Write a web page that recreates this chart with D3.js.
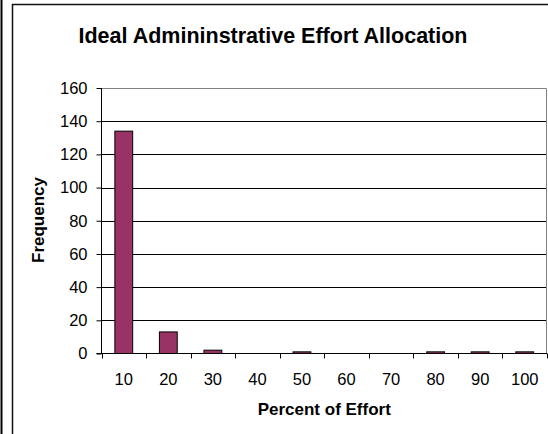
<!DOCTYPE html>
<html>
<head>
    <meta charset="utf-8" />
    <title>Ideal Admininstrative Effort Allocation</title>
    <script src="https://cdn.jsdelivr.net/npm/d3@7"></script>
    <style>
        body { margin: 0; background: #fff; }
        text { font-family: "Liberation Sans", Arial, sans-serif; fill: #000; }
    </style>
</head>
<body>
    <div id="chart"></div>
    <script>
        var categories = ["10", "20", "30", "40", "50", "60", "70", "80", "90", "100"];
        var frequency = [134, 13, 2, 0, 1, 0, 0, 1, 1, 1];
        var yTicks = [0, 20, 40, 60, 80, 100, 120, 140, 160];

        var width = 548;
        var height = 434;
        var plot = { left: 101.5, top: 88, right: 547, bottom: 353.5 };

        var svg = d3.select("#chart")
            .append("svg")
            .attr("width", width)
            .attr("height", height);

        // outer chart frame
        svg.append("line")
            .attr("x1", 1.5).attr("x2", 1.5)
            .attr("y1", 0).attr("y2", height)
            .attr("stroke", "#000").attr("stroke-width", 2);
        svg.append("rect")
            .attr("x", 12.5).attr("y", 4.5)
            .attr("width", width + 20).attr("height", height + 20)
            .attr("fill", "none")
            .attr("stroke", "#111").attr("stroke-width", 1.5);

        var x = d3.scaleBand()
            .domain(categories)
            .range([plot.left, plot.right])
            .paddingInner(0.6)
            .paddingOuter(0.3);

        var y = d3.scaleLinear()
            .domain([0, 160])
            .range([plot.bottom, plot.top]);

        // gridlines
        svg.selectAll(".grid")
            .data(yTicks.filter(function (d) { return d > 0 && d < 160; }))
            .enter()
            .append("line")
            .attr("x1", plot.left).attr("x2", plot.right)
            .attr("y1", function (d) { return Math.round(y(d)) + 0.5; })
            .attr("y2", function (d) { return Math.round(y(d)) + 0.5; })
            .attr("stroke", "#000");

        // plot area border (top and right)
        svg.append("path")
            .attr("d", "M" + plot.left + "," + (plot.top + 0.5) + "H" + (plot.right - 0.5) + "V" + plot.bottom)
            .attr("fill", "none")
            .attr("stroke", "#808080");

        // bars
        svg.selectAll(".bar")
            .data(frequency)
            .enter()
            .append("rect")
            .attr("x", function (d, i) { return x(categories[i]); })
            .attr("y", function (d) { return y(d); })
            .attr("width", x.bandwidth())
            .attr("height", function (d) { return plot.bottom - y(d); })
            .attr("fill", "#993366")
            .attr("stroke", "#000")
            .attr("stroke-width", 1);

        // y axis
        var yAxis = d3.axisLeft(y).tickValues(yTicks).tickSize(5).tickPadding(9);
        var gy = svg.append("g")
            .attr("transform", "translate(" + plot.left + ",0)")
            .call(yAxis);
        gy.select(".domain").attr("d", "M0," + plot.top + "V" + plot.bottom).attr("stroke", "#000");
        gy.selectAll(".tick line").attr("stroke", "#000");
        gy.selectAll(".tick text").style("font-size", "16.5px").style("font-family", "'Liberation Sans', Arial, sans-serif");

        // x axis with ticks at category boundaries
        var step = x.step();
        svg.append("line")
            .attr("x1", plot.left - 5).attr("x2", plot.right)
            .attr("y1", plot.bottom).attr("y2", plot.bottom)
            .attr("stroke", "#000");
        svg.selectAll(".xtick")
            .data(d3.range(categories.length + 1))
            .enter()
            .append("line")
            .attr("x1", function (i) { return Math.round(plot.left + i * step) + 0.5; })
            .attr("x2", function (i) { return Math.round(plot.left + i * step) + 0.5; })
            .attr("y1", plot.bottom)
            .attr("y2", plot.bottom + 5)
            .attr("stroke", "#000");
        svg.selectAll(".xlabel")
            .data(categories)
            .enter()
            .append("text")
            .attr("x", function (d) { return x(d) + x.bandwidth() / 2; })
            .attr("y", 385)
            .attr("text-anchor", "middle")
            .style("font-size", "16.5px")
            .text(function (d) { return d; });

        // titles
        svg.append("text")
            .attr("x", 273)
            .attr("y", 43)
            .attr("text-anchor", "middle")
            .style("font-size", "21.5px")
            .style("font-weight", "bold")
            .text("Ideal Admininstrative Effort Allocation");

        svg.append("text")
            .attr("x", (plot.left + plot.right) / 2)
            .attr("y", 415)
            .attr("text-anchor", "middle")
            .style("font-size", "17px")
            .style("font-weight", "bold")
            .text("Percent of Effort");

        svg.append("text")
            .attr("transform", "translate(44,220) rotate(-90)")
            .attr("text-anchor", "middle")
            .style("font-size", "17px")
            .style("font-weight", "bold")
            .text("Frequency");
    </script>
</body>
</html>
